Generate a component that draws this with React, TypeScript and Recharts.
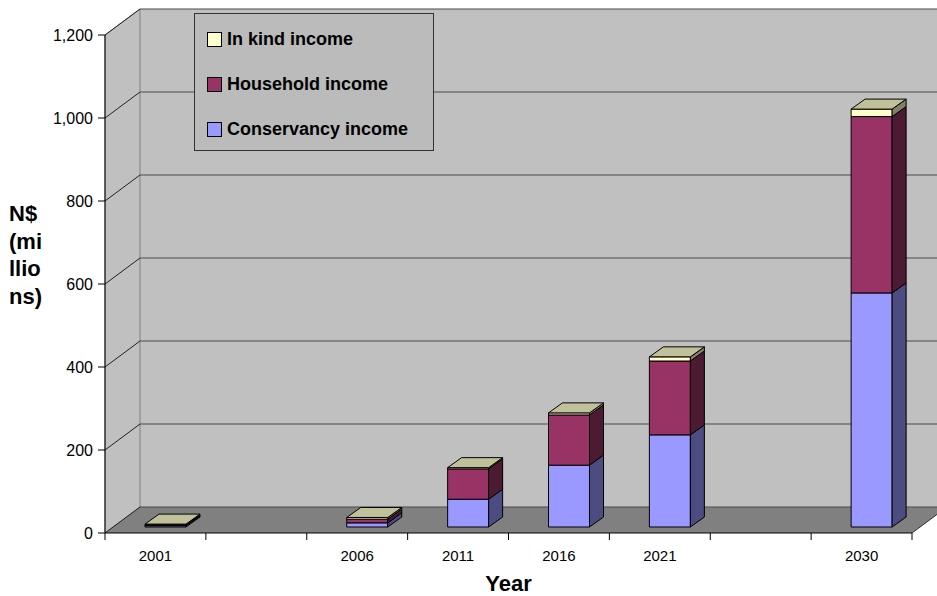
import { BarChart, Bar, XAxis, YAxis, CartesianGrid, ReferenceArea, Legend, Label } from "recharts";

const years = ["2001", "", "2006", "2011", "2016", "2021", "", "2030"];
const conservancy = [3, null, 10, 67, 149, 222, null, 564];
const household = [2, null, 9, 73, 121, 178, null, 425];
const inKind = [2, null, 4, 3, 5, 10, null, 18];
const yTicks = [0, 200, 400, 600, 800, 1000, 1200];

const data = years.map((year, i) => ({
  year,
  conservancy: conservancy[i],
  household: household[i],
  inKind: inKind[i],
}));

const series = [
  { key: "inKind", name: "In kind income", front: "#FFFFCC", side: "#808066", top: "#C0C09A" },
  { key: "household", name: "Household income", front: "#993366", side: "#4D1A33", top: "#73264D" },
  { key: "conservancy", name: "Conservancy income", front: "#9999FF", side: "#4C4C80", top: "#7373BF" },
];

// 3D look: back wall offset and bar depth
const WX = 35;
const WY = 26;
const BX = 10;
const BY = 6;
const DX = 14;
const DY = 10;
const FONT = "Arial, 'Liberation Sans', sans-serif";

const Walls = (props: any) => {
  const { x, y, width, height } = props;
  const b = y + height;
  return (
    <g>
      <rect x={x + WX} y={y - WY} width={width + 40} height={height} fill="#C0C0C0" />
      <polygon
        points={`${x},${b} ${x + WX},${b - WY} ${x + WX},${y - WY} ${x},${y}`}
        fill="#C0C0C0"
        stroke="#808080"
      />
      <polygon
        points={`${x},${b} ${x + width},${b} ${x + width + WX},${b - WY} ${x + WX},${b - WY}`}
        fill="#808080"
      />
      <line x1={x + width} y1={b} x2={x + width + WX} y2={b - WY} stroke="#333" />
    </g>
  );
};

const gridLine = (p: any) => (
  <g key={p.key}>
    <line x1={p.x1} y1={p.y1} x2={p.x1 + WX} y2={p.y1 - WY} stroke="#222" strokeWidth={1} />
    <line x1={p.x1 + WX} y1={p.y1 - WY} x2={p.x2 + WX + 40} y2={p.y2 - WY} stroke="#4a4a4a" strokeWidth={1.2} />
  </g>
);

const makeBox = (s: (typeof series)[number], withTop: boolean) => (props: any) => {
  const { x, y, width, height, payload } = props;
  if (!payload || payload[s.key] == null) return <g />;
  const fx = x + BX;
  const fy = y - BY;
  const w = width;
  const h = height;
  return (
    <g stroke="#000" strokeWidth={1} strokeLinejoin="round">
      <rect x={fx} y={fy} width={w} height={h} fill={s.front} />
      <polygon
        points={`${fx + w},${fy} ${fx + w + DX},${fy - DY} ${fx + w + DX},${fy + h - DY} ${fx + w},${fy + h}`}
        fill={s.side}
      />
      {withTop && (
        <polygon
          points={`${fx},${fy} ${fx + DX},${fy - DY} ${fx + w + DX},${fy - DY} ${fx + w},${fy}`}
          fill={s.top}
        />
      )}
    </g>
  );
};

const XTick = (props: any) => {
  const { x, y, payload, index, visibleTicksCount } = props;
  const half = payload?.offset ?? 50.4;
  const last = index === visibleTicksCount - 1;
  return (
    <g>
      <line x1={x - half} y1={y} x2={x - half} y2={y + 7} stroke="#000" />
      {last && <line x1={x + half} y1={y} x2={x + half} y2={y + 7} stroke="#000" />}
      <text x={x} y={y + 28} textAnchor="middle" fontSize={15} fill="#000" fontFamily={FONT}>
        {payload.value}
      </text>
    </g>
  );
};

const YTitle = (props: any) => {
  const vb = props.viewBox || { x: 0, y: 35, width: 105, height: 498 };
  const mid = vb.y + vb.height / 2;
  const lines = ["N$", "(mi", "llio", "ns)"];
  return (
    <text x={vb.x + 9} y={mid - 63} fontSize={22} fontWeight="bold" fill="#000" fontFamily={FONT}>
      {lines.map((t, i) => (
        <tspan key={i} x={vb.x + 9} y={mid - 63 + i * 27.5}>
          {t}
        </tspan>
      ))}
    </text>
  );
};

const XTitle = (props: any) => {
  const vb = props.viewBox || { x: 105, y: 533, width: 807, height: 63 };
  return (
    <text x={vb.x + vb.width / 2} y={vb.y + 58} textAnchor="middle" fontSize={22} fontWeight="bold" fill="#000" fontFamily={FONT}>
      Year
    </text>
  );
};

const LegendBox = () => (
  <div
    style={{
      width: 240,
      height: 138,
      boxSizing: "border-box",
      border: "1px solid #333",
      background: "#BBBBBB",
      position: "relative",
      fontFamily: FONT,
    }}
  >
    {series.map((s, i) => (
      <div
        key={s.key}
        style={{ position: "absolute", left: 12, top: 14 + i * 45, display: "flex", alignItems: "center", height: 22 }}
      >
        <span
          style={{ width: 13, height: 13, border: "1px solid #000", background: s.front, display: "inline-block", marginRight: 5 }}
        />
        <span style={{ fontSize: 18, fontWeight: "bold", color: "#000", whiteSpace: "nowrap" }}>{s.name}</span>
      </div>
    ))}
  </div>
);

export default function App() {
  return (
    <div style={{ position: "absolute", left: 0, top: 0, width: 937, height: 596, background: "#fff", fontFamily: FONT }}>
      <BarChart width={937} height={596} data={data} margin={{ top: 35, right: 25, left: 0, bottom: 0 }}>
        <ReferenceArea y1={0} y2={1200} ifOverflow="visible" shape={Walls} zIndex={-200} />
        <CartesianGrid vertical={false} horizontal={gridLine} />
        <XAxis
          dataKey="year"
          height={63}
          tickLine={false}
          tickSize={0}
          tickMargin={0}
          axisLine={{ stroke: "#000" }}
          tick={XTick}
          interval={0}
        >
          <Label content={XTitle} />
        </XAxis>
        <YAxis
          width={105}
          domain={[0, 1200]}
          ticks={yTicks}
          tickSize={7}
          tickMargin={5}
          tickLine={{ stroke: "#000" }}
          axisLine={{ stroke: "#000" }}
          tick={{ fill: "#000", fontSize: 16, fontFamily: FONT }}
          tickFormatter={(v: number) => v.toLocaleString("en-US")}
        >
          <Label content={YTitle} />
        </YAxis>
        <Legend
          layout="vertical"
          align="center"
          verticalAlign="middle"
          content={LegendBox}
          wrapperStyle={{ left: 194, top: 13, width: 240, height: 138 }}
        />
        <Bar dataKey="conservancy" stackId="a" barSize={41} isAnimationActive={false} shape={makeBox(series[2], false)} />
        <Bar dataKey="household" stackId="a" barSize={41} isAnimationActive={false} shape={makeBox(series[1], false)} />
        <Bar dataKey="inKind" stackId="a" barSize={41} isAnimationActive={false} shape={makeBox(series[0], true)} />
      </BarChart>
    </div>
  );
}
